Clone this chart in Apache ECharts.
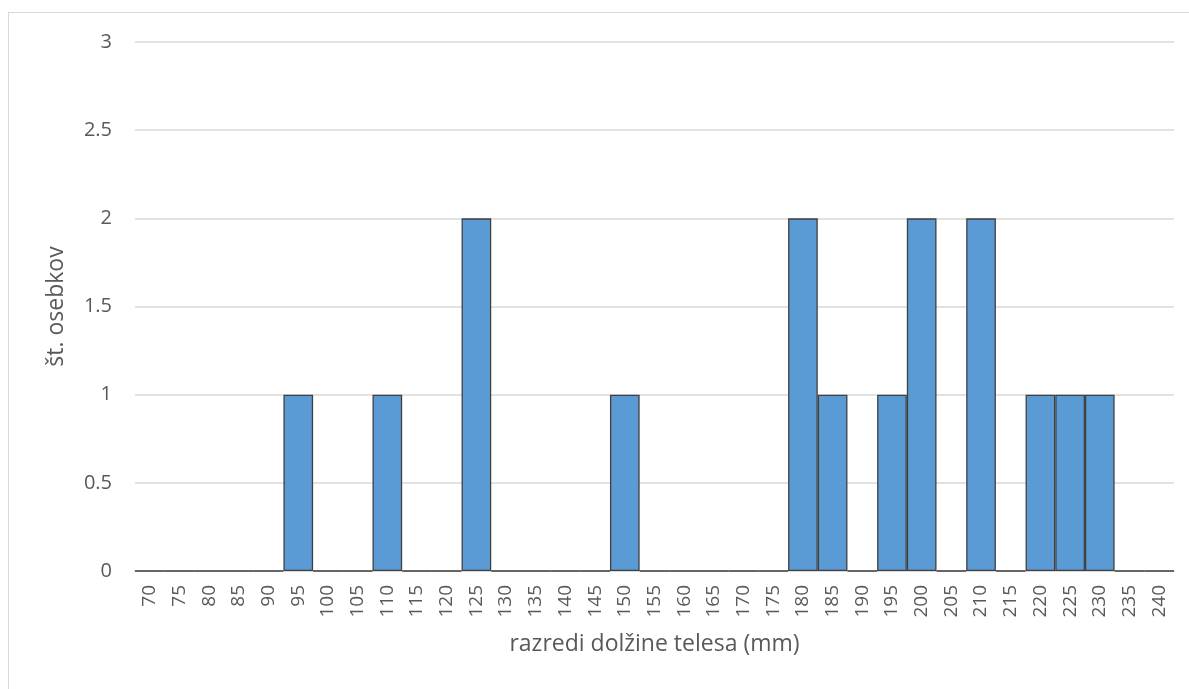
<!DOCTYPE html>
<html><head><meta charset="utf-8">
<script src="https://cdn.jsdelivr.net/npm/echarts@6/dist/echarts.min.js"></script>
<style>
html,body{margin:0;padding:0;background:#fff;}
#frame{position:absolute;left:8px;top:12px;width:1200px;height:700px;border:1px solid #d9d9d9;box-sizing:border-box;}
#chart{position:absolute;left:0;top:0;width:1189px;height:689px;}
</style></head>
<body>
<div id="frame"></div>
<div id="chart"></div>
<script>
const categories = ['70','75','80','85','90','95','100','105','110','115','120','125','130','135','140','145','150','155','160','165','170','175','180','185','190','195','200','205','210','215','220','225','230','235','240'];
const counts = [0,0,0,0,0,1,0,0,1,0,0,2,0,0,0,0,1,0,0,0,0,0,2,1,0,1,2,0,2,0,1,1,1,0,0];
const yTitle = 'št. osebkov';
const xTitle = 'razredi dolžine telesa (mm)';

const chart = echarts.init(document.getElementById('chart'), null, {renderer:'canvas'});
const font = '"Open Sans", "Noto Sans", sans-serif';
chart.setOption({
  animation:false,
  grid:{left:135, right:15, top:42, bottom:118, containLabel:false},
  xAxis:{
    type:'category', data:categories, boundaryGap:true,
    axisLine:{show:true, lineStyle:{color:'#d9d9d9', width:1.5}},
    axisTick:{show:false},
    axisLabel:{rotate:90, color:'#595959', fontSize:19, fontFamily:font, margin:14, interval:0},
    name:xTitle, nameLocation:'middle', nameGap:62,
    nameTextStyle:{color:'#595959', fontSize:23, fontFamily:font}
  },
  yAxis:{
    type:'value', min:0, max:3, interval:0.5,
    axisLine:{show:false}, axisTick:{show:false},
    splitLine:{lineStyle:{color:'#d9d9d9', width:1.5}},
    axisLabel:{color:'#595959', fontSize:20, fontFamily:font, margin:23},
    name:yTitle, nameLocation:'middle', nameGap:67,
    nameTextStyle:{color:'#595959', fontSize:23, fontFamily:font}
  },
  series:[{
    type:'bar', data:counts, barWidth:'100%', barGap:'0%',
    itemStyle:{color:'#5b9bd5', borderColor:'#404040', borderWidth:1.3}
  }]
});
</script>
</body></html>
